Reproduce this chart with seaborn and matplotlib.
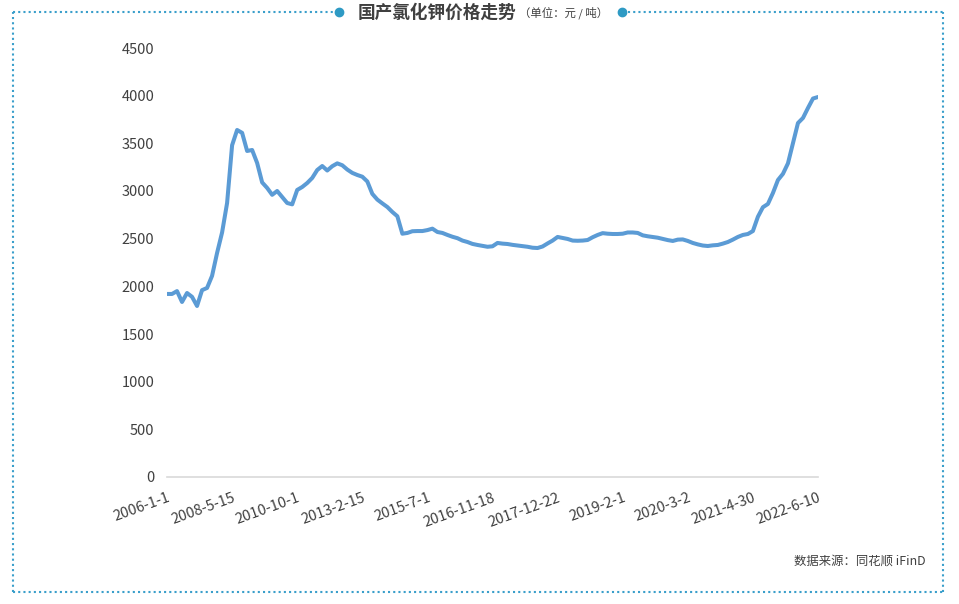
import numpy as np
import pandas as pd
import seaborn as sns
import matplotlib.pyplot as plt
from matplotlib.lines import Line2D

# price of domestic potassium chloride, yuan / ton (equal index steps)
prices = [
    1920, 1920, 1950, 1836, 1930, 1890, 1794, 1960, 1983, 2110,
    2350, 2565, 2874, 3480, 3640, 3610, 3420, 3430, 3294, 3090,
    3032, 2960, 3000, 2937, 2874, 2860, 3011, 3042, 3084, 3137,
    3220, 3262, 3215, 3260, 3290, 3270, 3225, 3190, 3168, 3150,
    3100, 2970, 2910, 2870, 2832, 2780, 2735, 2552, 2560, 2578,
    2580, 2580, 2590, 2605, 2570, 2560, 2539, 2520, 2505, 2480,
    2465, 2445, 2434, 2425, 2415, 2420, 2455, 2448, 2444, 2435,
    2428, 2420, 2415, 2405, 2402, 2418, 2450, 2480, 2518, 2508,
    2497, 2480, 2478, 2480, 2486, 2515, 2539, 2558, 2552, 2549,
    2549, 2552, 2565, 2565, 2560, 2535, 2525, 2518, 2510, 2497,
    2485, 2476, 2490, 2492, 2476, 2455, 2440, 2428, 2423, 2430,
    2434, 2448, 2465, 2490, 2518, 2539, 2549, 2580, 2730, 2830,
    2864, 2979, 3115, 3180, 3290, 3500, 3713, 3766, 3871, 3970,
    3986,
]
tick_labels = ["2006-1-1", "2008-5-15", "2010-10-1", "2013-2-15", "2015-7-1",
               "2016-11-18", "2017-12-22", "2019-2-1", "2020-3-2", "2021-4-30",
               "2022-6-10"]
y_ticks = [0, 500, 1000, 1500, 2000, 2500, 3000, 3500, 4000, 4500]

df = pd.DataFrame({"idx": np.arange(len(prices)), "price": prices})

sns.set_theme(style="white")
plt.rcParams["font.family"] = ["Noto Sans CJK SC", "DejaVu Sans"]

W, H = 959, 604
fig = plt.figure(figsize=(W / 100, H / 100), dpi=100)
ax = fig.add_axes([167 / W, 1 - 477 / H, 651 / W, 429 / H])

sns.lineplot(data=df, x="idx", y="price", ax=ax, color="#5B9BD5", linewidth=2.9)

ax.set_xlim(0, len(prices) - 1)
ax.set_ylim(0, 4500)
ax.set_yticks(y_ticks)
ax.set_yticklabels([str(v) for v in y_ticks], fontsize=10.5, color="#404040")
tick_pos = np.linspace(0, len(prices) - 1, len(tick_labels))
ax.set_xticks(tick_pos)
ax.set_xticklabels(tick_labels, fontsize=10.5, color="#404040",
                   rotation=20, ha="right", rotation_mode="anchor")
ax.tick_params(axis="y", length=0, pad=9)
ax.tick_params(axis="x", length=0, pad=10)
ax.set_xlabel("")
ax.set_ylabel("")
for s in ["top", "right", "left"]:
    ax.spines[s].set_visible(False)
ax.spines["bottom"].set_color("#d9d9d9")
ax.spines["bottom"].set_linewidth(1.2)

# dotted frame
frame_c = "#3A9FCB"
L, R, T, B = 13 / W, 943 / W, 1 - 12 / H, 1 - 592 / H
kw = dict(color=frame_c, linestyle=(0, (1, 1.5)), linewidth=1.5, transform=fig.transFigure)
fig.add_artist(Line2D([L, L], [B, T], **kw))
fig.add_artist(Line2D([R, R], [B, T], **kw))
fig.add_artist(Line2D([L, R], [B, B], **kw))
fig.add_artist(Line2D([L, 333 / W], [T, T], **kw))
fig.add_artist(Line2D([628 / W, R], [T, T], **kw))
fig.add_artist(Line2D([339 / W], [T], marker="o", markersize=6, color="#2E9AC4",
                      transform=fig.transFigure))
fig.add_artist(Line2D([622 / W], [T], marker="o", markersize=6, color="#2E9AC4",
                      transform=fig.transFigure))

fig.text(516 / W, 1 - 13 / H, "国产氯化钾价格走势", ha="right", va="center",
         fontsize=12.7, fontweight="bold", color="#404040")
fig.text(519 / W, 1 - 13 / H, "（单位：元 / 吨）", ha="left", va="center",
         fontsize=8.2, color="#404040")
fig.text(926 / W, 1 - 561 / H, "数据来源：同花顺 iFinD", ha="right", va="center",
         fontsize=8.9, color="#404040")

fig.savefig("out.png", dpi=100)
